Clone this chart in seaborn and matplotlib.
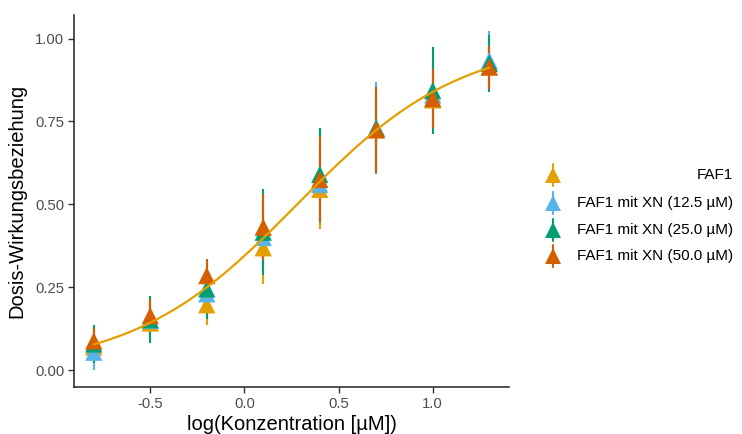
import numpy as np
import pandas as pd
import matplotlib
matplotlib.use("Agg")
import matplotlib.pyplot as plt
from matplotlib.lines import Line2D
import seaborn as sns

# ---- data ----
log_conc = [-0.8, -0.5, -0.2, 0.1, 0.4, 0.7, 1.0, 1.3]
series_names = ["FAF1", "FAF1 mit XN (12.5 \u00b5M)", "FAF1 mit XN (25.0 \u00b5M)", "FAF1 mit XN (50.0 \u00b5M)"]
faf1_mean = [0.070, 0.142, 0.197, 0.369, 0.545, 0.725, 0.815, 0.915]
faf1_sd = [0.050, 0.060, 0.061, 0.110, 0.120, 0.120, 0.090, 0.070]
xn125_mean = [0.054, 0.150, 0.230, 0.400, 0.560, 0.730, 0.830, 0.933]
xn125_sd = [0.054, 0.050, 0.070, 0.100, 0.120, 0.140, 0.100, 0.090]
xn250_mean = [0.079, 0.152, 0.245, 0.416, 0.590, 0.730, 0.843, 0.925]
xn250_sd = [0.057, 0.070, 0.090, 0.130, 0.140, 0.120, 0.130, 0.085]
xn500_mean = [0.088, 0.164, 0.285, 0.431, 0.575, 0.725, 0.819, 0.914]
xn500_sd = [0.040, 0.050, 0.050, 0.100, 0.130, 0.130, 0.090, 0.065]
y_ticks = [0.00, 0.25, 0.50, 0.75, 1.00]
x_ticks = [-0.5, 0.0, 0.5, 1.0]

colors = ["#E69F00", "#56B4E9", "#009E73", "#D55E00"]

means = [faf1_mean, xn125_mean, xn250_mean, xn500_mean]
sds = [faf1_sd, xn125_sd, xn250_sd, xn500_sd]
df = pd.concat([
    pd.DataFrame({"x": log_conc, "y": m, "sd": s, "grp": n})
    for n, m, s in zip(series_names, means, sds)
], ignore_index=True)

# ---- logistic fit (bottom 0, top 1) to the pooled data ----
xs = df["x"].to_numpy()
ys = df["y"].to_numpy()
slopes = np.arange(1.0, 4.0, 0.005)
mids = np.arange(-0.2, 0.8, 0.002)
S, M = np.meshgrid(slopes, mids, indexing="ij")
pred = 1.0 / (1.0 + np.exp(-S[..., None] * (xs[None, None, :] - M[..., None])))
sse = ((pred - ys[None, None, :]) ** 2).sum(-1)
i, j = np.unravel_index(np.argmin(sse), sse.shape)
b_slope, b_mid = slopes[i], mids[j]
xc = np.linspace(min(log_conc), max(log_conc), 300)
curve = pd.DataFrame({"x": xc, "y": 1.0 / (1.0 + np.exp(-b_slope * (xc - b_mid)))})

# ---- figure ----
sns.set_theme(style="ticks")
plt.rcParams["font.family"] = ["Liberation Sans", "DejaVu Sans"]

fig = plt.figure(figsize=(7.42, 4.34), dpi=100)
ax = fig.add_axes([74 / 742, 1 - 387 / 434, (509 - 74) / 742, (387 - 15) / 434])

for n, c in zip(series_names, colors):
    d = df[df["grp"] == n]
    ax.vlines(d["x"], d["y"] - d["sd"], d["y"] + d["sd"], color=c, lw=1.5, zorder=2)

sns.scatterplot(data=df, x="x", y="y", hue="grp", hue_order=series_names,
                palette=colors, marker="^", s=155, linewidth=0, legend=False,
                ax=ax, zorder=3)
sns.lineplot(data=curve, x="x", y="y", color="#E69F00", lw=1.6, ax=ax, zorder=4)

ax.set_xlim(-0.905, 1.405)
ax.set_ylim(-0.051, 1.071)
ax.set_xticks(x_ticks)
ax.set_xticklabels(["-0.5", "0.0", "0.5", "1.0"])
ax.set_yticks(y_ticks)
ax.set_yticklabels(["0.00", "0.25", "0.50", "0.75", "1.00"])
ax.tick_params(axis="both", colors="#333333", labelcolor="#4D4D4D", labelsize=10.7,
               length=4, width=1, direction="out", top=False, right=False, pad=3)
for sp in ["top", "right"]:
    ax.spines[sp].set_visible(False)
for sp in ["left", "bottom"]:
    ax.spines[sp].set_color("#222222")
    ax.spines[sp].set_linewidth(1.1)
ax.set_xlabel("log(Konzentration [\u00b5M])", fontsize=14.5, color="black", labelpad=3)
ax.set_ylabel("Dosis-Wirkungsbeziehung", fontsize=14.5, color="black", labelpad=6)
ax.grid(False)

# ---- legend (manual, right-aligned labels) ----
row_y = [175, 203, 230, 256]
for n, c, ry in zip(series_names, colors, row_y):
    yf = 1 - ry / 434
    xf = 553 / 742
    fig.add_artist(Line2D([xf, xf], [yf - 11 / 434, yf + 11 / 434], color=c, lw=1.5,
                          transform=fig.transFigure))
    fig.add_artist(Line2D([xf], [yf], marker="^", markersize=12, color=c, lw=0,
                          markeredgewidth=0, transform=fig.transFigure))
    fig.text(733 / 742, yf, n, ha="right", va="center", fontsize=11, color="black")

fig.savefig("out.png", dpi=100, facecolor="white")
